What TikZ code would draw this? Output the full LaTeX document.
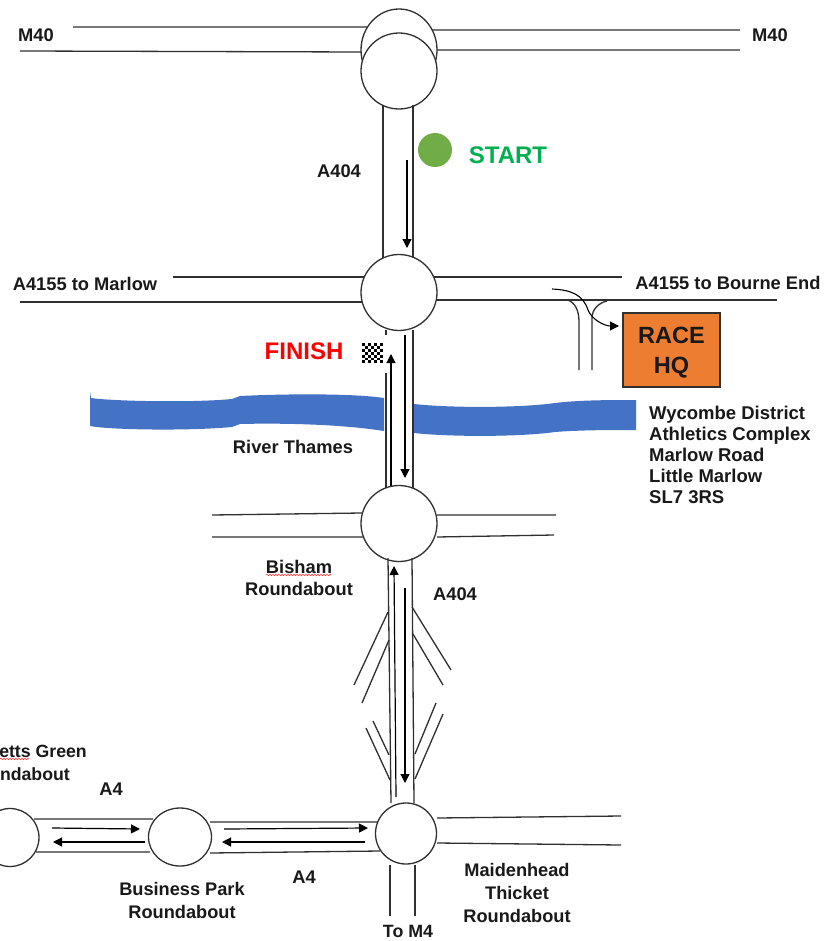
\documentclass[tikz,border=0pt]{standalone}
\usepackage{fontspec}
\setmainfont{Liberation Sans}
\usetikzlibrary{arrows.meta,decorations.pathmorphing,shapes.geometric}
\definecolor{lineg}{HTML}{303030}
\definecolor{river}{HTML}{4472C4}
\definecolor{hq}{HTML}{ED7D31}
\definecolor{startg}{HTML}{00B050}
\definecolor{dotg}{HTML}{70AD47}
\tikzset{
 road/.style={draw=lineg,line width=1.3pt},
 dirn/.style={draw=black,line width=1.2pt,-{Triangle[length=9pt,width=9pt]}},
 rabout/.style={circle,draw=lineg,line width=1.3pt,fill=white,minimum size=76pt,inner sep=0pt},
 lbl/.style={font=\bfseries\fontsize{18.3}{21}\selectfont,text=black!90,inner sep=0pt},
 squig/.style={draw=red!80,line width=0.6pt,decorate,decoration={snake,amplitude=0.7pt,segment length=3pt}}
}
\begin{document}
\begin{tikzpicture}[x=1pt,y=-1pt]
\useasboundingbox (0,0) rectangle (836,941);
\clip (0,0) rectangle (836,941);
\fill[white] (0,0) rectangle (836,941);
% river
\fill[river] (90,392) -- (91,398) .. controls (110,401) and (190,403) .. (232,399) -- (240,396) .. controls (280,394) and (350,393) .. (384,398) -- (384,431) .. controls (340,424) and (280,423) .. (240,424) -- (232,427) .. controls (190,431) and (110,430) .. (90,426) -- cycle;
\fill[river] (414,404) .. controls (450,408) and (520,408) .. (555,403) .. controls (580,400) and (610,400) .. (636,400) -- (636,430) .. controls (610,430) and (580,430) .. (555,432) .. controls (520,437) and (450,437) .. (414,433) -- cycle;
% M40
\draw[road] (73,27) -- (369,27) (20,51) -- (362,52) (430,30) -- (740,30) (437,50) -- (740,50);
\node[draw=lineg,line width=1.3pt,ellipse,fill=white,minimum width=76pt,minimum height=82pt,inner sep=0pt] (back) at (399,50) {};
\node[rabout] (rTop) at (399,71) {};
% A404 north
\draw[road] (383,105) -- (383,260) (413,105) -- (413,260);
\coordinate (a1s) at (407,160); \coordinate (a1e) at (407,248);
\draw[dirn] (a1s) -- (a1e);
% A4155
\draw[road] (173,277) -- (365,277) (20,302) -- (362,302) (434,277) -- (622,277) (437,300) -- (777,300);
\node[rabout] (rMid) at (399,292.5) {};
% slip to HQ
\draw[road] (579,370) -- (579,322) .. controls (579,310) and (575,303) .. (568,300);
\draw[road] (592,370) -- (592,318) .. controls (592,310) and (598,303) .. (607,301);
\node[draw=lineg,line width=1.3pt,fill=hq,minimum width=97pt,minimum height=74pt,inner sep=0pt,text depth=0pt,align=center,font=\bfseries\fontsize{23.5}{30}\selectfont,text=black!90] (hq) at (671.5,350) {\rule{0pt}{4pt}RACE\\HQ};
\coordinate (slip) at (552,289);
\draw[draw=black,line width=1.1pt,-{Triangle[length=9pt,width=9pt]}] (slip) .. controls (572,290) and (583,295) .. (588,310) .. controls (592,320) and (605,326) .. (619,326);
% A404 centre
\draw[road] (386,330) -- (386,335) (386,373) -- (386,488) (413,330) -- (413,490);
\draw[dirn] (391,487) -- (391,354);
\draw[dirn] (405,335) -- (405,478);
% Bisham
\draw[road] (212,515) -- (362,513) (212,537) -- (364,537) (437,515) -- (556,515) (437,537) -- (554,535);
\node[rabout] (rBis) at (399,523.5) {};
% A404 south
\draw[road] (388,558) -- (391,803) (412,558) -- (414,803);
\draw[dirn] (396,797) -- (394,566);
\draw[dirn] (405,588) -- (405,783);
\draw[road] (388,612) -- (354,685) (389,640) -- (362,703) (412,607) -- (451,670) (413,634) -- (443,685);
\draw[road] (373,721) -- (389,755) (366,728) -- (390,780) (436,703) -- (415,754) (443,714) -- (415,779);
% Maidenhead Thicket
\draw[road] (437,818) -- (621,816) (437,843) -- (621,845);
\draw[road] (390,865) -- (390,916) (415,865) -- (415,916);
\draw[road] (34,819) -- (153,819) (36,852) -- (150,852) (210,822) -- (377,822) (210,853) -- (380,851);
\node[circle,draw=lineg,line width=1.3pt,fill=white,minimum size=61pt,inner sep=0pt] (rMai) at (406,833.5) {};
\node[ellipse,draw=lineg,line width=1.3pt,fill=white,minimum width=63pt,minimum height=58pt,inner sep=0pt] (rBus) at (180,837) {};
\node[circle,draw=lineg,line width=1.3pt,fill=white,minimum size=58pt,inner sep=0pt] (rBen) at (10,837.5) {};
\draw[dirn] (52,828) -- (140,829);
\draw[dirn] (145,842) -- (53,842);
\draw[dirn] (224,829) -- (368,828);
\draw[dirn] (365,842) -- (222,842);
% start / finish
\node[circle,fill=dotg,minimum size=34pt,inner sep=0pt] (startdot) at (435,150) {};
\foreach \i in {0,...,6}{\foreach \j in {0,...,6}{
  \pgfmathparse{int(mod(\i+\j,2))}
  \ifnum\pgfmathresult=0 \fill[black] ({362+\i*3},{343+\j*2.9}) rectangle ++(3,2.9);\fi
}}
% labels
\node[lbl] (t1) at (36,35) {M40};
\node[lbl] (t2) at (770,35) {M40};
\node[lbl] (t3) at (339,171) {A404};
\node[lbl,text=startg,font=\bfseries\fontsize{24}{26}\selectfont] (t4) at (508,155) {START};
\node[lbl] (t5) at (85,284) {A4155 to Marlow};
\node[lbl] (t6) at (728,283) {A4155 to Bourne End};
\node[lbl,text=red,font=\bfseries\fontsize{24}{26}\selectfont] (t7) at (304,351) {FINISH};
\node[lbl] (t8) at (293,447) {River Thames};
\node[lbl,anchor=west,align=left,font=\bfseries\fontsize{18.5}{21}\selectfont] (t9) at (649,455) {Wycombe District\\Athletics Complex\\Marlow Road\\Little Marlow\\SL7 3RS};
\node[lbl,align=center,font=\bfseries\fontsize{18.3}{22}\selectfont] (t10) at (299,578) {Bisham\\Roundabout};
\node[lbl] (t11) at (455,594) {A404};
\node[lbl] (t12) at (111,789) {A4};
\node[lbl] (t13) at (304,877) {A4};
\node[lbl,align=center,font=\bfseries\fontsize{18.2}{23}\selectfont] (t14) at (182,900.5) {Business Park\\Roundabout};
\node[lbl,align=center,font=\bfseries\fontsize{18.2}{23}\selectfont] (t15) at (517,892.5) {Maidenhead\\Thicket\\Roundabout};
\node[lbl,font=\bfseries\fontsize{17.8}{20}\selectfont] (t16) at (408,931.5) {To M4};
\node[lbl,anchor=east,font=\bfseries\fontsize{17.7}{20}\selectfont] (t17) at (87,751) {etts Green};
\node[lbl,anchor=east,font=\bfseries\fontsize{17.7}{20}\selectfont] (t18) at (70,774) {ndabout};
\draw[squig] (266,575) -- (331,575);
\draw[squig] (0,759) -- (29,759);
\end{tikzpicture}
\end{document}
